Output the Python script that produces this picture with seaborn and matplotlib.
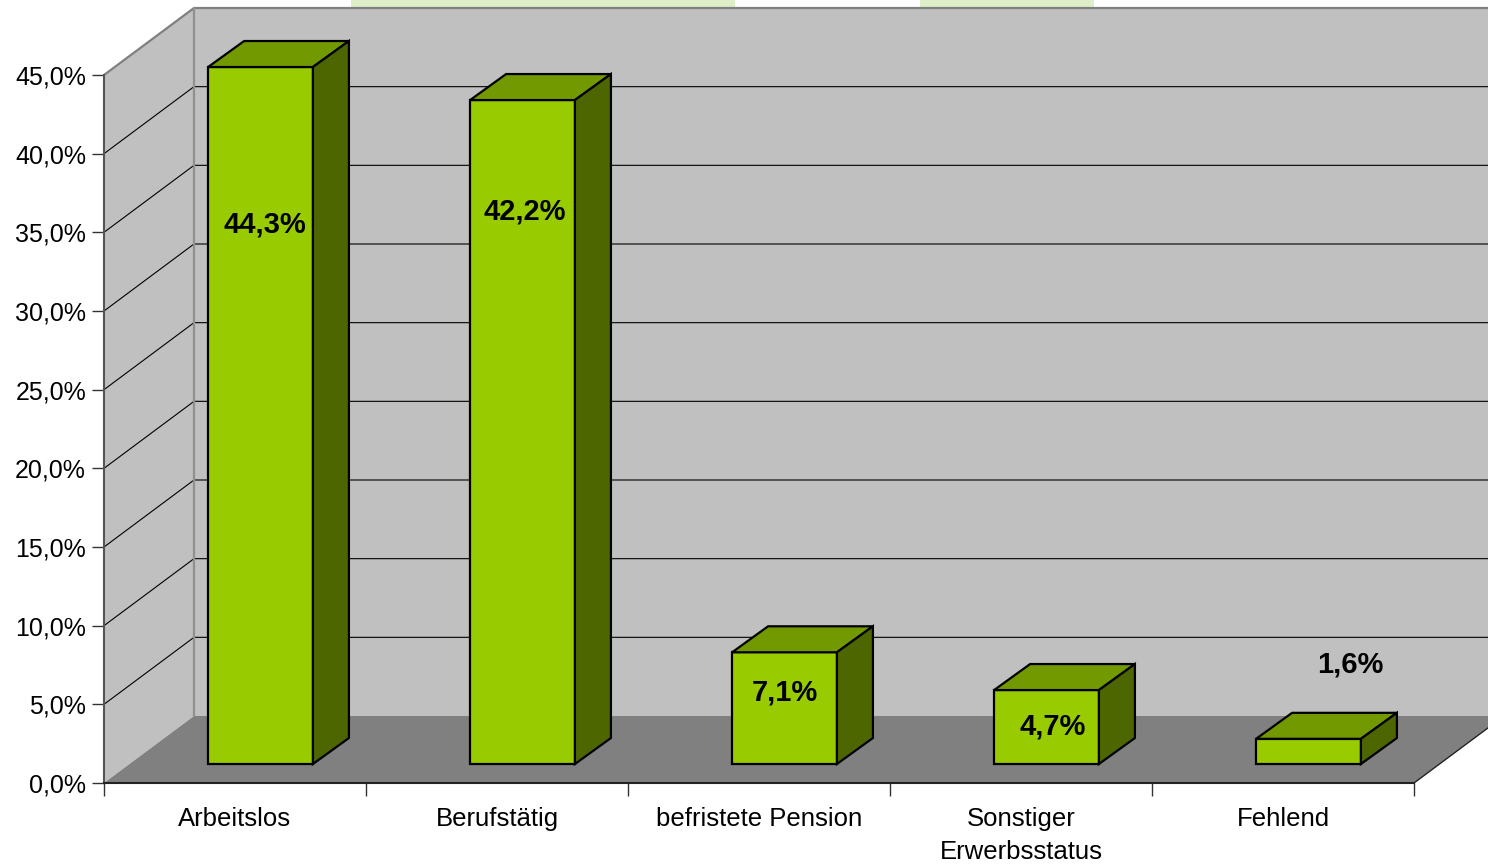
import numpy as np
import pandas as pd
import matplotlib
matplotlib.use("Agg")
import matplotlib.pyplot as plt
from matplotlib.patches import Polygon, Rectangle
import seaborn as sns

## DATA
categories = ["Arbeitslos", "Berufstätig", "befristete Pension", "Sonstiger\nErwerbsstatus", "Fehlend"]
values = [44.3, 42.2, 7.1, 4.7, 1.6]
y_ticks = [0, 5, 10, 15, 20, 25, 30, 35, 40, 45]

# where the value labels sit (Excel placed them a bit oddly)
label_y = [35.5, 36.35, 5.75, 3.6, 7.55]
label_dx = [0.017, 0.01, 0.002, 0.025, 0.158]

sns.set_theme(style="white")
plt.rcParams["font.family"] = ["Liberation Sans", "DejaVu Sans"]

W, H = 1488, 865
fig = plt.figure(figsize=(W / 100, H / 100), dpi=100)
ax = fig.add_axes([0, 0, 1, 1])

## GEOMETRY (pixel scale of the front plane)
PX_X = 262.0            # px per category slot
PX_Y = 708 / 45         # px per percent
X0, Y0 = 104, 783       # pixel of the front origin
DX, DY = 90 / PX_X, 67 / PX_Y      # full depth of floor / walls
Z0 = 19 / 67                       # depth of the bar front faces
BDX, BDY = 36 / PX_X, 26 / PX_Y    # depth of the bars

n = len(categories)
top = y_ticks[-1]

# faint green watermark peeking out above the wall
for x1, x2 in [(351, 735), (920, 1094)]:
    ax.add_patch(Rectangle((x1 / W, 1 - 8 / H), (x2 - x1) / W, 8 / H,
                           transform=fig.transFigure, fc="#deeec8", ec="none", zorder=0.1))

## WALLS AND FLOOR
wall = "#c0c0c0"
ax.add_patch(Polygon([(DX, DY), (n + DX, DY), (n + DX, top + DY), (DX, top + DY)],
                     fc=wall, ec="none", zorder=0.2))
ax.add_patch(Polygon([(0, 0), (DX, DY), (DX, top + DY), (0, top)],
                     fc=wall, ec="none", zorder=0.2))
ax.add_patch(Polygon([(0, 0), (n, 0), (n + DX, DY), (DX, DY)],
                     fc="#808080", ec="none", zorder=0.3))

for v in y_ticks[1:-1]:
    ax.plot([0, DX, n + DX], [v, v + DY, v + DY], color="black", lw=0.8, zorder=0.5)
ax.plot([0, DX, n + DX], [top, top + DY, top + DY], color="#808080", lw=1.6, zorder=0.5)
ax.plot([DX, DX], [DY, top + DY], color="#909090", lw=1.6, zorder=0.5)
ax.plot([n, n + DX], [0, DY], color="#222222", lw=1, zorder=0.5)

## BARS
df = pd.DataFrame({"pos": np.arange(n) + 0.5 + Z0 * DX, "value": values})
sns.barplot(data=df, x="pos", y="value", native_scale=True, width=0.4,
            color="#99cc00", saturation=1, edgecolor="black", linewidth=1.6,
            bottom=Z0 * DY, ax=ax, zorder=2)

for i, bar in enumerate(ax.containers[0]):
    x, y, w, h = bar.get_x(), bar.get_y(), bar.get_width(), bar.get_height()
    t = y + h
    ax.add_patch(Polygon([(x, t), (x + w, t), (x + w + BDX, t + BDY), (x + BDX, t + BDY)],
                         fc="#729a00", ec="black", lw=1.6, zorder=2, joinstyle="miter"))
    ax.add_patch(Polygon([(x + w, y), (x + w + BDX, y + BDY), (x + w + BDX, t + BDY), (x + w, t)],
                         fc="#4d6600", ec="black", lw=1.6, zorder=2, joinstyle="miter"))
    txt = f"{values[i]:.1f}%".replace(".", ",")
    ax.text(x + w / 2 + label_dx[i], label_y[i], txt, ha="center", va="center",
            fontsize=21, fontweight="bold", color="black", zorder=5)

## AXES
ax.set_xlim(-X0 / PX_X, n + (W - X0 - n * PX_X) / PX_X)
ax.set_ylim(-(H - Y0) / PX_Y, Y0 / PX_Y)
ax.set_xlabel("")
ax.set_ylabel("")
ax.grid(False)

for s in ["top", "right"]:
    ax.spines[s].set_visible(False)
ax.spines["left"].set_position(("data", 0))
ax.spines["left"].set_bounds(0, top)
ax.spines["left"].set_color("#555555")
ax.spines["left"].set_linewidth(1.5)
ax.spines["bottom"].set_position(("data", 0))
ax.spines["bottom"].set_bounds(0, n)
ax.spines["bottom"].set_color("#222222")
ax.spines["bottom"].set_linewidth(1.5)

ax.set_yticks(y_ticks, labels=[f"{v:.1f}%".replace(".", ",") for v in y_ticks])
ax.tick_params(axis="y", which="major", left=True, direction="out", length=8.6,
               width=1, color="#333333", pad=4.3, labelsize=18, labelcolor="black")

ax.set_xticks(range(n + 1), labels=[""] * (n + 1))
ax.set_xticks(np.arange(n) + 0.5, labels=categories, minor=True)
ax.tick_params(axis="x", which="major", bottom=True, direction="out", length=9.4,
               width=1, color="#333333")
ax.tick_params(axis="x", which="minor", bottom=True, length=0, pad=17,
               labelsize=18.5, labelcolor="black")
for lbl in ax.get_xticklabels(minor=True):
    lbl.set_linespacing(1.5)

fig.savefig("out.png", dpi=100)
